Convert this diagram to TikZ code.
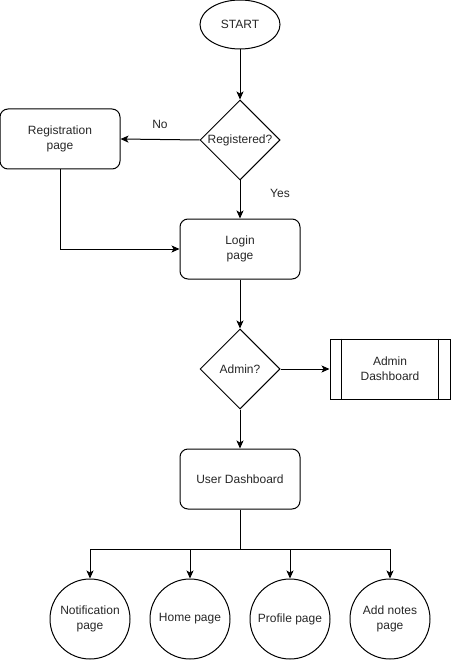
\documentclass[tikz,border=0pt]{standalone}
\usepackage{fontspec}
\setmainfont{Liberation Sans}
\usetikzlibrary{shapes.geometric,arrows.meta}
\begin{document}
\begin{tikzpicture}[x=1pt,y=-1pt,
  every node/.style={font=\fontsize{12}{15}\selectfont, text=black!85, align=center, inner sep=0pt},
  base/.style={draw, line width=1pt},
  rbox/.style={base, rounded corners=8pt, minimum width=120pt, minimum height=60pt},
  pbox/.style={base, minimum width=120pt, minimum height=60pt},
  dia/.style={base, diamond, minimum width=80pt, minimum height=80pt},
  oval/.style={base, ellipse, minimum width=80pt, minimum height=49pt},
  circ/.style={base, circle, minimum size=80pt},
  arr/.style={line width=1pt, -{Stealth[length=8pt,width=7pt,inset=2pt]}},
  lbl/.style={font=\fontsize{12}{15}\selectfont}
]
\useasboundingbox (0,0) rectangle (451,660);
\node[oval] (start) at (240,24.5) {START};
\node[dia, label={center:Registered?}] (reg) at (240,140) {};
\node[rbox] (regp) at (60,139) {Registration\\page};
\node[rbox] (login) at (240,249) {Login\\page};
\node[dia, label={center:Admin?}] (admin) at (240,369) {};
\node[pbox] (adb) at (390,369) {Admin\\Dashboard};
\draw[line width=1pt] ([xshift=12pt]adb.north west) -- ([xshift=12pt]adb.south west);
\draw[line width=1pt] ([xshift=-12pt]adb.north east) -- ([xshift=-12pt]adb.south east);
\node[rbox] (ud) at (240,479) {User Dashboard};
\node[circ] (c1) at (90,619) {Notification\\page};
\node[circ] (c2) at (190,619) {Home page};
\node[circ] (c3) at (290,619) {Profile page};
\node[circ] (c4) at (390,619) {Add notes\\page};
\coordinate (bus) at (240,549);

\draw[arr] (start.south) -- (reg.north);
\draw[arr] (reg.west) -- (regp.east);
\node[lbl] (no) at (160,124) {No};
\draw[arr] (reg.south) -- (login.north);
\node[lbl] (yes) at (280,193) {Yes};
\draw[arr] (regp.south) |- (login.west);
\draw[arr] (login.south) -- (admin.north);
\draw[arr] (admin.east) -- (adb.west);
\draw[arr] (admin.south) -- (ud.north);
\draw[line width=1pt] (ud.south) -- (bus);
\draw[arr] (bus) -| (c1.north);
\draw[arr] (bus) -| (c2.north);
\draw[arr] (bus) -| (c3.north);
\draw[arr] (bus) -| (c4.north);
\end{tikzpicture}
\end{document}
